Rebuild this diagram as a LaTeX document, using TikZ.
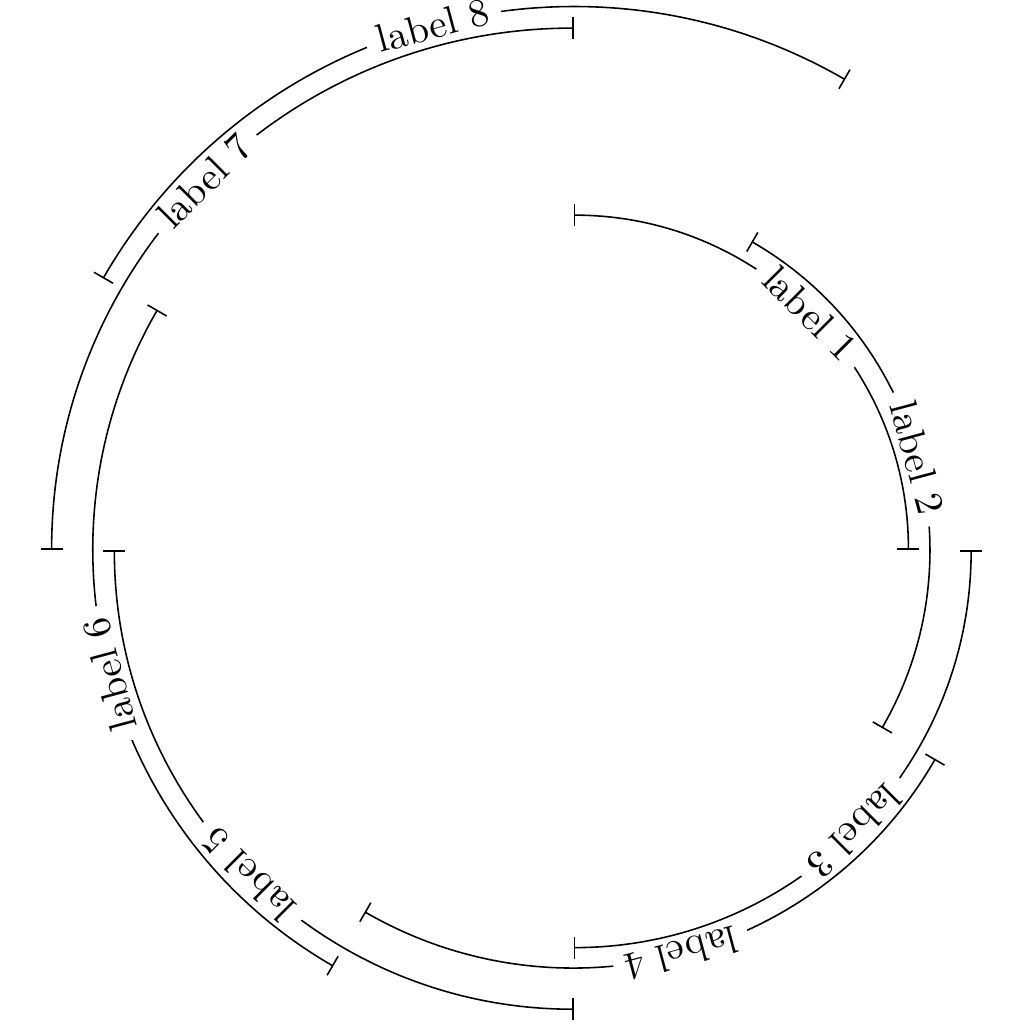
\documentclass[tikz,border=0pt]{standalone}
\usepackage{tikz}
\usepackage{xcolor}

\begin{document}
\begin{tikzpicture}[
    seg/.style={|-|},
    lbl/.style={midway, sloped, allow upside down, fill=white, inner xsep=3pt, inner ysep=0pt}]
    \useasboundingbox (-5.121,-4.232) rectangle (4.022,4.911);

    \draw[seg] (90:2.99) arc[start angle=90, end angle=0, radius=2.99] node[lbl] (lab1) {label 1};
    \draw[seg] (60:3.18) arc[start angle=60, end angle=-30, radius=3.18] node[lbl] (lab2) {label 2};

    \draw[seg] (0:3.55) arc[start angle=0, end angle=-90, radius=3.55] node[lbl] (lab3) {label 3};
    \draw[seg] (-30:3.73) arc[start angle=-30, end angle=-120, radius=3.73] node[lbl] (lab4) {label 4};

    \draw[seg] (-90:4.10) arc[start angle=-90, end angle=-180, radius=4.10] node[lbl] (lab5) {label 5};
    \draw[seg] (-120:4.29) arc[start angle=-120, end angle=-210, radius=4.29] node[lbl] (lab6) {label 6};

    \draw[seg] (180:4.66) arc[start angle=180, end angle=90, radius=4.66] node[lbl] (lab7) {label 7};
    \draw[seg] (150:4.85) arc[start angle=150, end angle=60, radius=4.85] node[lbl] (lab8) {label 8};

\end{tikzpicture}
\end{document}
